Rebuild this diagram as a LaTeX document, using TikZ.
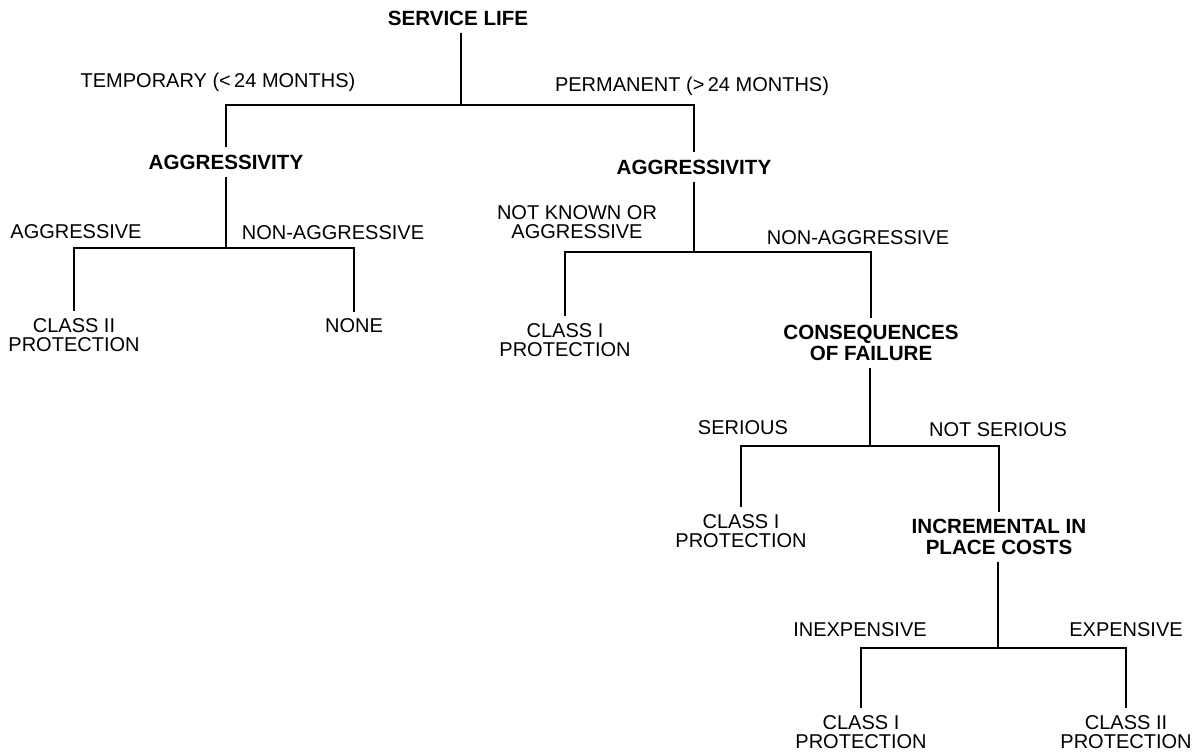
\documentclass[tikz,border=0pt]{standalone}
\usepackage{fontspec}
\setmainfont{Liberation Sans}
\begin{document}
\begin{tikzpicture}[x=0.5pt,y=-0.5pt,
        decision/.style={font=\fontsize{10.3}{10.5}\selectfont\bfseries, align=center, inner sep=3.5pt},
        outcome/.style={font=\fontsize{10}{9.6}\selectfont, align=center, inner sep=3.5pt},
        choice/.style={font=\fontsize{10}{9.6}\selectfont, align=center, inner sep=0pt},
        branch/.style={line width=0.9pt}]
        \useasboundingbox (0,0) rectangle (1195,755);

        % Service life split
        \node[decision] (life) at (458,18) {SERVICE LIFE};
        \coordinate (b1) at (461,105);
        \node[choice] (temp) at (218,82) {TEMPORARY (<\,24 MONTHS)};
        \node[choice] (perm) at (692,86) {PERMANENT (>\,24 MONTHS)};
        \node[decision] (agg1) at (226,162) {AGGRESSIVITY};
        \node[decision] (agg2) at (694,167) {AGGRESSIVITY};
        \draw[branch] (life.south -| b1) -- (b1);
        \draw[branch] (agg1) |- (b1) -| (agg2);

        % Temporary: aggressivity
        \coordinate (b2) at (226,248);
        \node[choice] (aggr) at (76,232) {AGGRESSIVE};
        \node[choice] (nonaggr) at (333,233) {NON-AGGRESSIVE};
        \node[outcome] (cls2a) at (74,335) {CLASS II\\PROTECTION};
        \node[outcome] (none) at (354,326) {NONE};
        \draw[branch] (agg1) -- (b2);
        \draw[branch] (cls2a) |- (b2) -| (none);

        % Permanent: aggressivity
        \coordinate (b3) at (694,252);
        \node[choice] (notknown) at (577,222) {NOT KNOWN OR\\AGGRESSIVE};
        \node[choice] (nonaggr2) at (858,238) {NON-AGGRESSIVE};
        \node[outcome] (cls1a) at (565,340) {CLASS I\\PROTECTION};
        \node[decision] (cons) at (871,343) {CONSEQUENCES\\OF FAILURE};
        \draw[branch] (agg2) -- (b3);
        \draw[branch] (cls1a) |- (b3) -| (cons);

        % Consequences of failure
        \coordinate (b4) at (870,446);
        \node[choice] (serious) at (743,428) {SERIOUS};
        \node[choice] (notserious) at (998,430) {NOT SERIOUS};
        \node[outcome] (cls1b) at (741,531) {CLASS I\\PROTECTION};
        \node[decision] (incr) at (999,537) {INCREMENTAL IN\\PLACE COSTS};
        \draw[branch] (cons.south -| b4) -- (b4);
        \draw[branch] (cls1b) |- (b4) -| (incr);

        % Incremental in place costs
        \coordinate (b5) at (998,648);
        \node[choice] (inexp) at (860,630) {INEXPENSIVE};
        \node[choice] (exp) at (1126,630) {EXPENSIVE};
        \node[outcome] (cls1c) at (861,732) {CLASS I\\PROTECTION};
        \node[outcome] (cls2b) at (1126,732) {CLASS II\\PROTECTION};
        \draw[branch] (incr.south -| b5) -- (b5);
        \draw[branch] (cls1c) |- (b5) -| (cls2b);
\end{tikzpicture}
\end{document}
